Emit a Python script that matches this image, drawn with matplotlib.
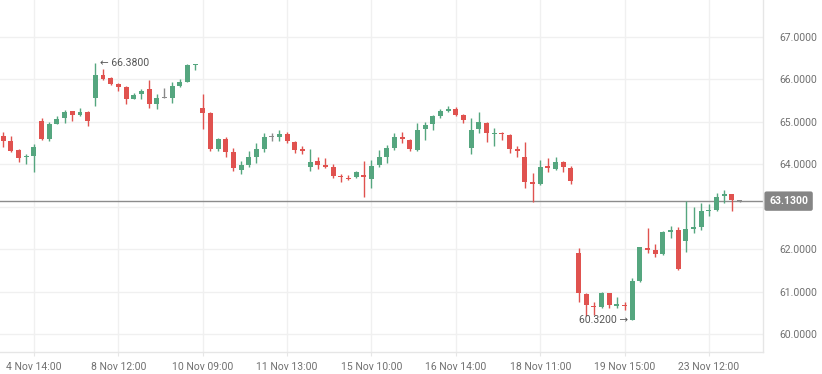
"""
Candlestick chart of a price series, Nov 4 - Nov 23
"""
import matplotlib
matplotlib.use('Agg')
import matplotlib.pyplot as plt
import numpy as np

# OHLC values
opens = [64.66, 64.55, 64.33, 64.17, 64.19, 65.02, 64.59, 64.95, 65.08, 65.25,
         65.15, 65.22, 65.55, 66.10, 66.02, 65.90, 65.83, 65.54, 65.65, 65.76,
         65.42, 65.55, 65.55, 65.85, 65.94, 66.33, 65.32, 65.20, 64.35, 64.59,
         64.28, 63.87, 63.99, 64.18, 64.35, 64.63, 64.65, 64.71, 64.52, 64.35,
         63.94, 64.08, 63.99, 63.93, 63.72, 63.67, 63.69, 63.74, 63.66, 63.98,
         64.18, 64.38, 64.64, 64.58, 64.33, 64.82, 64.94, 65.14, 65.25, 65.30,
         65.16, 64.39, 64.82, 64.96, 64.71, 64.73, 64.69, 64.35, 64.16, 63.57,
         63.53, 63.95, 63.88, 64.06, 63.90, 61.90, 60.94, 60.67, 60.64, 60.96,
         60.67, 60.69, 60.33, 61.25, 62.02, 61.99, 61.88, 62.41, 62.45, 62.20,
         62.47, 62.53, 62.90, 62.92, 63.26, 63.29, 63.13]
highs = [64.75, 64.67, 64.35, 64.25, 64.47, 65.08, 65.00, 65.14, 65.28, 65.26,
         65.33, 65.25, 66.38, 66.24, 66.05, 65.91, 65.84, 65.68, 65.76, 65.98,
         65.65, 65.79, 65.93, 66.01, 66.36, 66.37, 65.65, 65.22, 64.62, 64.65,
         64.37, 64.08, 64.32, 64.49, 64.73, 64.73, 64.81, 64.77, 64.55, 64.43,
         64.35, 64.16, 64.14, 64.00, 63.78, 63.75, 63.84, 64.08, 64.10, 64.33,
         64.45, 64.74, 64.77, 64.59, 64.96, 64.99, 65.16, 65.30, 65.38, 65.35,
         65.18, 65.08, 65.22, 64.99, 64.85, 64.77, 64.70, 64.43, 64.53, 63.80,
         64.10, 64.14, 64.18, 64.08, 63.96, 62.02, 60.97, 60.76, 60.98, 60.97,
         60.88, 60.76, 61.31, 62.06, 62.49, 62.12, 62.43, 62.54, 62.51, 63.13,
         62.98, 63.08, 63.06, 63.31, 63.39, 63.29, 63.14]
lows = [64.41, 64.29, 64.05, 64.01, 63.82, 64.58, 64.55, 64.94, 64.98, 65.02,
        65.13, 64.91, 65.37, 65.98, 65.86, 65.72, 65.42, 65.53, 65.54, 65.32,
        65.30, 65.55, 65.43, 65.81, 65.93, 66.22, 64.82, 64.31, 64.30, 64.18,
        63.85, 63.77, 63.93, 64.02, 64.29, 64.55, 64.55, 64.49, 64.27, 64.24,
        63.85, 63.88, 63.90, 63.67, 63.59, 63.63, 63.67, 63.22, 63.43, 63.93,
        64.02, 64.33, 64.49, 64.32, 64.32, 64.57, 64.81, 65.08, 65.23, 65.14,
        64.96, 64.23, 64.74, 64.53, 64.43, 64.57, 64.26, 64.18, 63.43, 63.12,
        63.50, 63.82, 63.86, 63.82, 63.53, 60.76, 60.43, 60.45, 60.62, 60.61,
        60.62, 60.57, 60.32, 61.23, 61.90, 61.81, 61.86, 62.27, 61.51, 61.94,
        62.37, 62.45, 62.79, 62.90, 63.08, 62.90, 63.12]
closes = [64.55, 64.32, 64.14, 64.20, 64.40, 64.59, 64.94, 65.07, 65.23, 65.15,
          65.22, 65.01, 66.09, 66.01, 65.90, 65.83, 65.54, 65.64, 65.72, 65.42,
          65.56, 65.55, 65.85, 65.94, 66.34, 66.35, 65.20, 64.35, 64.59, 64.28,
          63.90, 63.98, 64.18, 64.35, 64.63, 64.63, 64.71, 64.55, 64.33, 64.30,
          64.06, 63.99, 63.94, 63.72, 63.69, 63.64, 63.81, 63.69, 63.96, 64.16,
          64.37, 64.63, 64.59, 64.35, 64.81, 64.93, 65.13, 65.25, 65.29, 65.16,
          65.04, 64.81, 64.99, 64.73, 64.72, 64.70, 64.36, 64.31, 63.58, 63.53,
          63.93, 63.90, 64.06, 63.93, 63.61, 60.96, 60.68, 60.64, 60.96, 60.69,
          60.69, 60.66, 61.25, 62.04, 61.99, 61.88, 62.41, 62.44, 61.52, 62.47,
          62.53, 62.90, 62.92, 63.23, 63.29, 63.15, 63.13]

tick_idx = [4, 15, 26, 37, 48, 59, 70, 81, 92]
tick_labels = ['4 Nov 14:00', '8 Nov 12:00', '10 Nov 09:00', '11 Nov 13:00',
               '15 Nov 10:00', '16 Nov 14:00', '18 Nov 11:00', '19 Nov 15:00',
               '23 Nov 12:00']
y_ticks = [60, 61, 62, 63, 64, 65, 66, 67]
last_price = 63.13
max_idx, max_val = 12, 66.38
min_idx, min_val = 82, 60.32

UP = '#55a67f'
DOWN = '#e0524f'
DOJI = '#8a8a8a'
GRID = '#f0f0f0'
TEXT = '#707070'

plt.rcParams['font.family'] = ['Roboto', 'DejaVu Sans']

fig = plt.figure(figsize=(8.22, 3.74), dpi=100)
ax = fig.add_axes([0, 22 / 374, 763 / 822, 352 / 374])

o = np.array(opens)
h = np.array(highs)
l = np.array(lows)
c = np.array(closes)
x = np.arange(len(o))

colors = np.where(c > o, UP, np.where(c < o, DOWN, DOJI))
ax.vlines(x, l, h, colors=colors, linewidth=1, zorder=3)
bottoms = np.minimum(o, c)
heights = np.maximum(np.abs(c - o), 0.03)
ax.bar(x, heights, bottom=bottoms, width=0.65, color=colors, linewidth=0, zorder=4)

# last price line + label (hides the tick label underneath, as in the original)
ax.axhline(last_price, color='#8c8c8c', linewidth=1, zorder=2)
ax.text(1.008, last_price, f'{last_price:.4f}', transform=ax.get_yaxis_transform(),
        ha='left', va='center', fontsize=7.5, color='white', fontweight='bold',
        bbox=dict(boxstyle='round,pad=0.45,rounding_size=0.2', fc='#858585', ec='none'),
        clip_on=False, zorder=6)

# extremes
ax.text(max_idx + 0.6, max_val, '\u2190 66.3800', ha='left', va='center',
        fontsize=7.5, color='#555555', zorder=5)
ax.text(min_idx - 0.6, min_val, '60.3200 \u2192', ha='right', va='center',
        fontsize=7.5, color='#555555', zorder=5)

ax.set_xlim(-0.43, 99.05)
ax.set_ylim(59.576, 67.868)

ax.set_xticks(tick_idx)
ax.set_xticklabels(tick_labels)
ax.set_yticks(y_ticks)
ax.set_yticklabels(['' if v == 63 else f'{v:.4f}' for v in y_ticks])
ax.yaxis.tick_right()
ax.tick_params(axis='y', length=0, pad=12, labelsize=7.5, labelcolor=TEXT)
ax.tick_params(axis='x', length=3, color='#e6e6e6', pad=4, labelsize=7.5, labelcolor=TEXT)

ax.grid(True, color=GRID, linewidth=1, zorder=0)
ax.set_axisbelow(True)
for side in ['top', 'left']:
    ax.spines[side].set_visible(False)
for side in ['right', 'bottom']:
    ax.spines[side].set_color('#e6e6e6')
    ax.spines[side].set_linewidth(1)

fig.savefig('out.png', dpi=100)
